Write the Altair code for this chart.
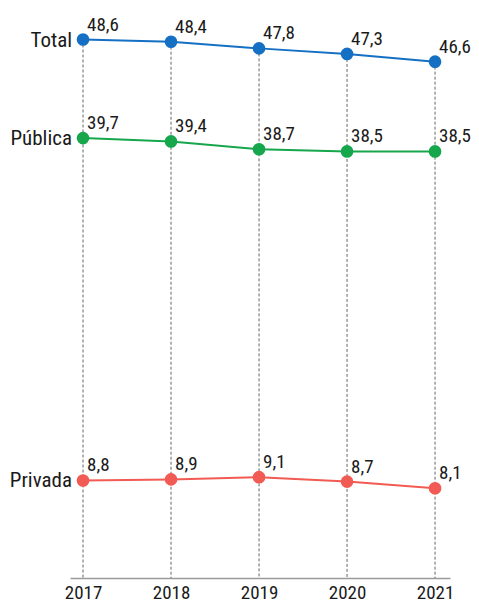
import altair as alt
import pandas as pd

years = [2017, 2018, 2019, 2020, 2021]
series_names = ["Total", "Pública", "Privada"]
total = [48.6, 48.4, 47.8, 47.3, 46.6]
publica = [39.7, 39.4, 38.7, 38.5, 38.5]
privada = [8.8, 8.9, 9.1, 8.7, 8.1]
colors = ["#1570c4", "#16a64b", "#f15b53"]

FONT = "Roboto Condensed, Roboto, sans-serif"

rows = []
for name, vals in zip(series_names, [total, publica, privada]):
    for y, v in zip(years, vals):
        rows.append({"year": y, "serie": name, "value": v,
                     "label": f"{v:.1f}".replace(".", ",")})
df = pd.DataFrame(rows)
rule_df = pd.DataFrame({"year": years, "top": total})
first_df = df[df["year"] == years[0]]

x = alt.X("year:Q", scale=alt.Scale(domain=[2016.852, 2021.17], nice=False, zero=False),
          axis=alt.Axis(values=years, format="d", grid=False, ticks=False, domainColor="#9a9a9a",
                        domainWidth=1.5, labelFontSize=19, labelFont=FONT, labelColor="#1a1a1a",
                        labelPadding=5, title=None))
y = alt.Y("value:Q", scale=alt.Scale(domain=[0, 50], nice=False), axis=None)
color = alt.Color("serie:N", scale=alt.Scale(domain=series_names, range=colors), legend=None)

rules = alt.Chart(rule_df).mark_rule(color="#666666", strokeDash=[3, 2], strokeWidth=1).encode(
    x=x, y=alt.Y("top:Q", scale=alt.Scale(domain=[0, 50], nice=False), axis=None), y2=alt.datum(0)
)
lines = alt.Chart(df).mark_line(strokeWidth=2).encode(x=x, y=y, color=color, detail="serie:N")
points = alt.Chart(df).mark_circle(size=160, opacity=1).encode(x=x, y=y, color=color)
values = alt.Chart(df).mark_text(align="left", baseline="alphabetic", dx=4, dy=-9,
                                 fontSize=19, font=FONT, color="#1a1a1a").encode(
    x=x, y=y, text="label:N")
names = alt.Chart(first_df).mark_text(align="right", baseline="middle", dx=-11, dy=1,
                                      fontSize=21, font=FONT, color="#1a1a1a").encode(
    x=x, y=y, text="serie:N")

chart = alt.layer(rules, lines, points, values, names).properties(
    width=380, height=554,
    autosize=alt.AutoSizeParams(type="none"),
    padding={"left": 62, "top": 16, "right": 21, "bottom": 27},
).configure_view(stroke=None)

chart.save("out.html", embed_options={"renderer": "svg", "actions": False})
